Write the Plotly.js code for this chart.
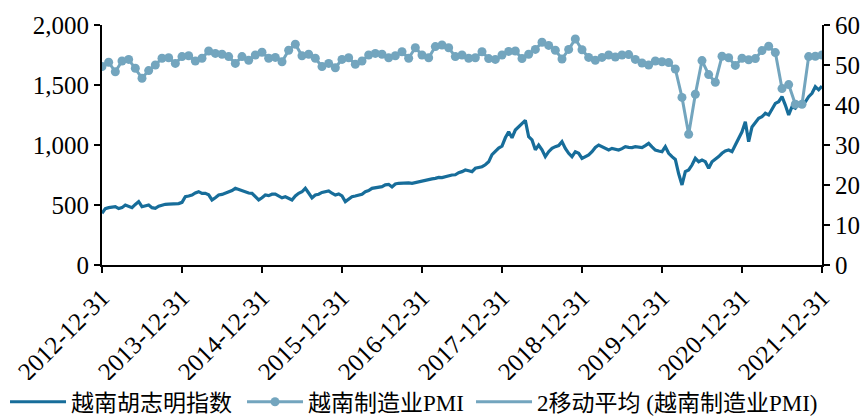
<!DOCTYPE html>
<html>
<head>
<meta charset="utf-8">
<script src="https://cdn.plot.ly/plotly-3.0.1.min.js"></script>
<style>
  html, body { margin: 0; padding: 0; background: #fff; }
  #chart { width: 867px; height: 417px; }
</style>
</head>
<body>
<div id="chart"></div>
<script>
// Series names (legend)
const seriesNames = ['越南胡志明指数', '越南制造业PMI', '2移动平均 (越南制造业PMI)'];

// Year-end tick labels on the date axis
const tickLabels = ['2012-12-31', '2013-12-31', '2014-12-31', '2015-12-31', '2016-12-31',
                    '2017-12-31', '2018-12-31', '2019-12-31', '2020-12-31', '2021-12-31'];

// Ho Chi Minh (VN) index, twice a month from 2012-12-31 to 2021-12-31
const vnStart = '2012-12-31';
const vnIndex = [
  431,
  // 2013
  470, 478, 482, 486, 470, 478, 500, 488, 478, 505, 528, 486,
  492, 500, 478, 472, 490, 500, 506, 508, 510, 514, 512, 522,
  // 2014
  569, 575, 583, 600, 611, 597, 597, 585, 542, 560, 583, 588,
  597, 605, 620, 639, 628, 615, 605, 600, 597, 572, 542, 560,
  // 2015
  583, 578, 590, 590, 575, 560, 569, 555, 542, 575, 597, 610,
  639, 600, 560, 583, 590, 605, 612, 617, 598, 583, 592, 575,
  // 2016
  528, 548, 569, 575, 583, 590, 611, 620, 639, 645, 650, 653,
  668, 672, 650, 675, 681, 684, 681, 684, 681, 688, 694, 700,
  // 2017
  708, 712, 718, 722, 730, 728, 736, 742, 750, 752, 770, 778,
  792, 785, 778, 806, 812, 819, 835, 860, 920, 950, 975, 990,
  // 2018
  1060, 1111, 1060, 1125, 1150, 1174, 1205, 1069, 1042, 960, 1000, 960,
  903, 944, 972, 986, 995, 1028, 972, 931, 903, 944, 931, 889,
  // 2019
  905, 917, 944, 980, 1000, 986, 965, 958, 972, 965, 958, 970,
  986, 980, 978, 986, 980, 978, 995, 1014, 985, 958, 950, 944,
  // 2020
  986, 931, 903, 880, 760, 667, 778, 792, 833, 889, 861, 875,
  861, 806, 861, 880, 903, 931, 950, 958, 944, 1000, 1056, 1110,
  // 2021
  1194, 1028, 1150, 1190, 1222, 1236, 1264, 1250, 1306, 1347, 1361, 1403,
  1333, 1250, 1320, 1306, 1347, 1340, 1360, 1403, 1431, 1486, 1460, 1490
];

// Vietnam manufacturing PMI, monthly from 2012-12 to 2021-12
const pmiStart = '2012-12-31';
const pmi = [
  49.6,
  // 2013
  50.7, 48.3, 51.0, 51.4, 49.2, 46.7, 48.6, 50.0, 51.7, 51.8, 50.4, 52.1,
  // 2014
  52.3, 51.0, 51.7, 53.5, 52.9, 52.7, 52.1, 50.4, 52.1, 51.2, 52.5, 53.2,
  // 2015
  51.7, 51.9, 50.8, 53.7, 55.2, 52.3, 52.7, 51.7, 49.6, 50.4, 49.3, 51.4,
  // 2016
  51.8, 50.2, 51.0, 52.5, 52.9, 52.7, 51.8, 52.3, 53.3, 51.7, 54.3, 52.5,
  // 2017
  51.8, 54.6, 55.0, 54.3, 52.1, 52.5, 51.7, 51.8, 53.3, 51.6, 51.4, 52.5,
  // 2018
  53.4, 53.5, 51.6, 52.7, 53.9, 55.7, 54.9, 53.7, 51.5, 53.9, 56.5, 53.8,
  // 2019
  51.9, 51.2, 51.9, 52.5, 52.0, 52.5, 52.6, 51.4, 50.5, 50.0, 51.0, 50.8,
  // 2020
  50.6, 49.0, 41.9, 32.7, 42.7, 51.1, 47.6, 45.7, 52.2, 51.8, 49.9, 51.7,
  // 2021
  51.3, 51.6, 53.6, 54.7, 53.1, 44.1, 45.1, 40.2, 40.2, 52.1, 52.2, 52.5
];

const DAY = 86400000;
const SPAN_DAYS = 3287; // 2012-12-31 .. 2021-12-31
const darkBlue = '#176d9a';
const lightBlue = '#73a5be';
const fontFamily = '"Liberation Serif", "Noto Sans CJK SC", serif';

const traces = [
  {
    name: seriesNames[0],
    type: 'scatter', mode: 'lines',
    x0: vnStart, dx: SPAN_DAYS * DAY / (vnIndex.length - 1),
    y: vnIndex,
    line: { color: darkBlue, width: 3.2 },
    yaxis: 'y',
    legendwidth: 166
  },
  {
    name: seriesNames[1],
    type: 'scatter', mode: 'lines+markers',
    x0: pmiStart, dx: SPAN_DAYS * DAY / (pmi.length - 1),
    y: pmi,
    line: { color: lightBlue, width: 3 },
    marker: { color: lightBlue, size: 9 },
    yaxis: 'y2',
    legendwidth: 158
  },
  {
    // moving-average entry, shown in the legend only
    name: seriesNames[2],
    type: 'scatter', mode: 'lines',
    x: [null], y: [null],
    line: { color: lightBlue, width: 3 },
    yaxis: 'y2'
  }
];

const axisCommon = {
  showline: true, linecolor: '#000', linewidth: 2,
  ticks: 'outside', ticklen: 6, tickwidth: 2, tickcolor: '#000',
  showgrid: false, zeroline: false, automargin: false,
  tickfont: { family: fontFamily, size: 25, color: '#000' }
};

const layout = {
  width: 867, height: 417,
  margin: { l: 102, r: 45, t: 25, b: 152, autoexpand: false },
  paper_bgcolor: '#fff', plot_bgcolor: '#fff',
  showlegend: true,
  legend: {
    orientation: 'h', x: -0.1347, xanchor: 'left', y: -0.57, yanchor: 'middle',
    font: { family: fontFamily, size: 23, color: '#000' },
    itemwidth: 56, tracegroupgap: 0, entrywidthmode: 'pixels'
  },
  xaxis: Object.assign({}, axisCommon, {
    type: 'date',
    range: [tickLabels[0], tickLabels[tickLabels.length - 1]],
    tickmode: 'array', tickvals: tickLabels, ticktext: tickLabels,
    tickangle: -45
  }),
  yaxis: Object.assign({}, axisCommon, {
    range: [0, 2000], tickmode: 'linear', tick0: 0, dtick: 500,
    tickformat: ',d'
  }),
  yaxis2: Object.assign({}, axisCommon, {
    overlaying: 'y', side: 'right',
    range: [0, 60], tickmode: 'linear', tick0: 0, dtick: 10
  })
};

Plotly.newPlot('chart', traces, layout, { displayModeBar: false, staticPlot: true });
</script>
</body>
</html>
